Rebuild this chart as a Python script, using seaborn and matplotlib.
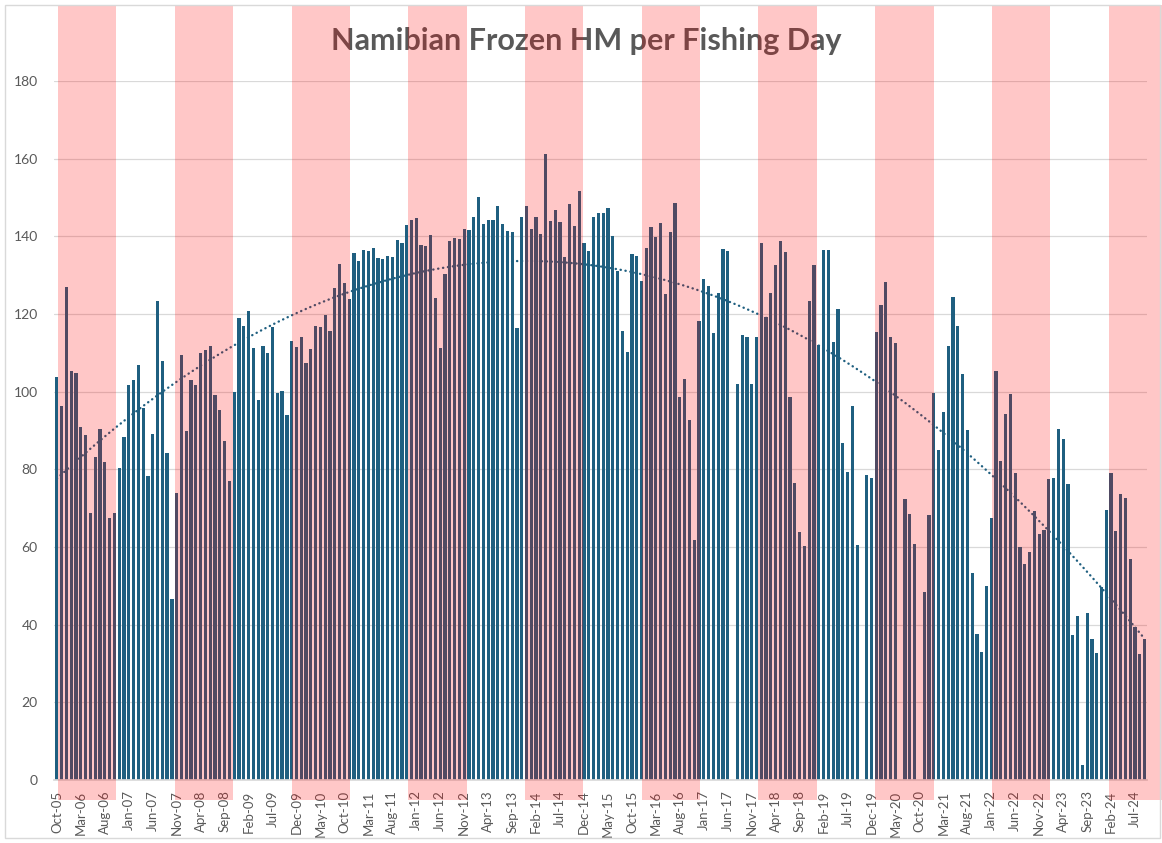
import numpy as np
import pandas as pd
import matplotlib.pyplot as plt
import matplotlib.transforms as mtransforms
from matplotlib.patches import Rectangle
import seaborn as sns

# Monthly frozen horse mackerel per fishing day, Oct-05 .. Sep-24 (NaN = no data)
hm_per_day = [
    103.9, 96.3, 126.9, 105.3, 104.9, 90.9, 88.8, 68.8, 83.3, 90.4, 81.8, 67.5,
    68.8, 80.3, 88.3, 101.8, 103.1, 106.9, 95.7, 78.4, 89.0, 123.3, 107.9, 84.1,
    46.5, 73.8, 109.4, 89.9, 103.1, 101.6, 109.9, 110.8, 111.7, 99.2, 95.3, 87.3,
    77.0, 99.9, 118.9, 117.0, 120.8, 111.2, 97.9, 111.7, 110.0, 116.7, 99.7, 100.1,
    94.0, 113.1, 111.5, 114.0, 107.3, 111.1, 116.8, 116.7, 119.7, 115.7, 126.6, 132.9,
    128.1, 123.8, 135.6, 133.7, 136.5, 136.2, 137.1, 134.4, 134.2, 135.0, 134.6, 139.0,
    138.4, 143.0, 144.2, 144.6, 137.8, 137.4, 140.3, 124.0, 111.2, 130.2, 138.8, 139.7,
    139.2, 142.0, 141.7, 144.9, 150.2, 143.3, 144.3, 144.3, 147.9, 143.3, 141.5, 141.0,
    116.5, 144.9, 147.9, 141.8, 144.9, 140.7, 161.2, 144.0, 146.8, 143.7, 134.6, 148.3,
    142.7, 151.7, 138.2, 136.1, 145.1, 146.1, 146.0, 147.3, 140.2, 131.0, 115.6, 110.1,
    135.4, 134.9, 128.4, 137.0, 142.3, 139.8, 143.5, 125.1, 141.1, 148.6, 98.6, 103.3,
    92.6, 61.7, 118.1, 129.0, 127.1, 115.0, 125.4, 136.7, 136.1, np.nan, 101.9, 114.5,
    114.2, 101.9, 114.1, 138.3, 119.3, 125.4, 132.6, 138.7, 136.0, 98.7, 76.6, 63.8,
    60.3, 123.4, 132.7, 112.1, 136.4, 136.4, 112.8, 121.3, 86.8, 79.3, 96.3, 60.6,
    np.nan, 78.5, 77.8, 115.3, 122.2, 128.2, 114.2, 112.5, np.nan, 72.4, 68.4, 60.8,
    np.nan, 48.3, 68.2, 99.7, 85.0, 94.7, 111.8, 124.5, 116.9, 104.5, 90.2, 53.4,
    37.6, 33.0, 50.0, 67.6, 105.2, 82.2, 94.2, 99.3, 79.1, 60.0, 55.5, 58.8,
    69.4, 63.3, 64.4, 77.4, 77.8, 90.4, 87.7, 76.1, 37.3, 42.2, 3.9, 42.9,
    36.2, 32.6, 49.6, 69.5, 79.1, 64.2, 73.6, 72.5, 56.8, 39.5, 32.4, 36.4,
]
months = pd.date_range("2005-10-01", periods=len(hm_per_day), freq="MS").strftime("%b-%y").tolist()
y_ticks = list(range(0, 181, 20))

bar_color = "#1F5F80"
grey = "#595959"

df = pd.DataFrame({"month": months, "value": hm_per_day})

sns.set_theme(style="white")
plt.rcParams['font.family'] = ['Lato', 'DejaVu Sans']

fig = plt.figure(figsize=(11.62, 8.43), dpi=100)
ax = fig.add_axes([0.0469, 0.0747, 0.9402, 0.8292])

sns.barplot(data=df, x="month", y="value", order=months, color=bar_color,
            saturation=1, width=0.67, errorbar=None, linewidth=0, ax=ax, zorder=2)

# polynomial (order 2) trend line, dotted
x = np.arange(len(hm_per_day))
y = np.array(hm_per_day)
ok = ~np.isnan(y)
coef = np.polyfit(x[ok], y[ok], 2)
ax.plot(x, np.polyval(coef, x), ls=(0, (0.1, 2.0)), lw=1.7, color=bar_color,
        dash_capstyle="round", zorder=2.5)

# axes styling
ax.set_xlim(-0.5, len(months) - 0.5)
ax.set_ylim(0, 180)
ax.set_yticks(y_ticks)
ax.set_xticks(range(0, len(months), 5))
ax.set_xticklabels(months[::5], rotation=90)
ax.set_xticks(np.arange(-0.5, len(months), 5), minor=True)
ax.tick_params(axis="x", which="major", length=0, pad=7.5, labelsize=9.5, labelcolor=grey)
ax.tick_params(axis="x", which="minor", length=4, width=0.8, color="#BFBFBF")
ax.tick_params(axis="y", length=0, pad=12, labelsize=10, labelcolor=grey)
ax.yaxis.grid(True, color="#D9D9D9", lw=0.9)
ax.set_axisbelow(True)
ax.set_xlabel("")
ax.set_ylabel("")
for s in ["left", "top", "right"]:
    ax.spines[s].set_visible(False)
ax.spines["bottom"].set_color("#D9D9D9")

# title sits under the pink bands
ax.text(0.4865, 1.044, "Namibian Frozen HM per Fishing Day", transform=ax.transAxes,
        ha="center", va="baseline", fontsize=22, fontweight="bold", color=grey,
        zorder=1, clip_on=False)

# alternating translucent pink bands over everything
band_x0, band_w = 0.25, 12.18
trans = mtransforms.blended_transform_factory(ax.transData, ax.transAxes)
for k in range(0, 19, 2):
    ax.add_patch(Rectangle((band_x0 + k * band_w, -0.0286), band_w, 1.1373,
                           transform=trans, facecolor="red", alpha=0.22,
                           lw=0, zorder=3, clip_on=False))

# chart area border
fig.patches.append(Rectangle((0.0043, 0.006), 0.994, 0.9885, transform=fig.transFigure,
                             fill=False, edgecolor="#D9D9D9", lw=1))

fig.savefig("out.png", dpi=100)
